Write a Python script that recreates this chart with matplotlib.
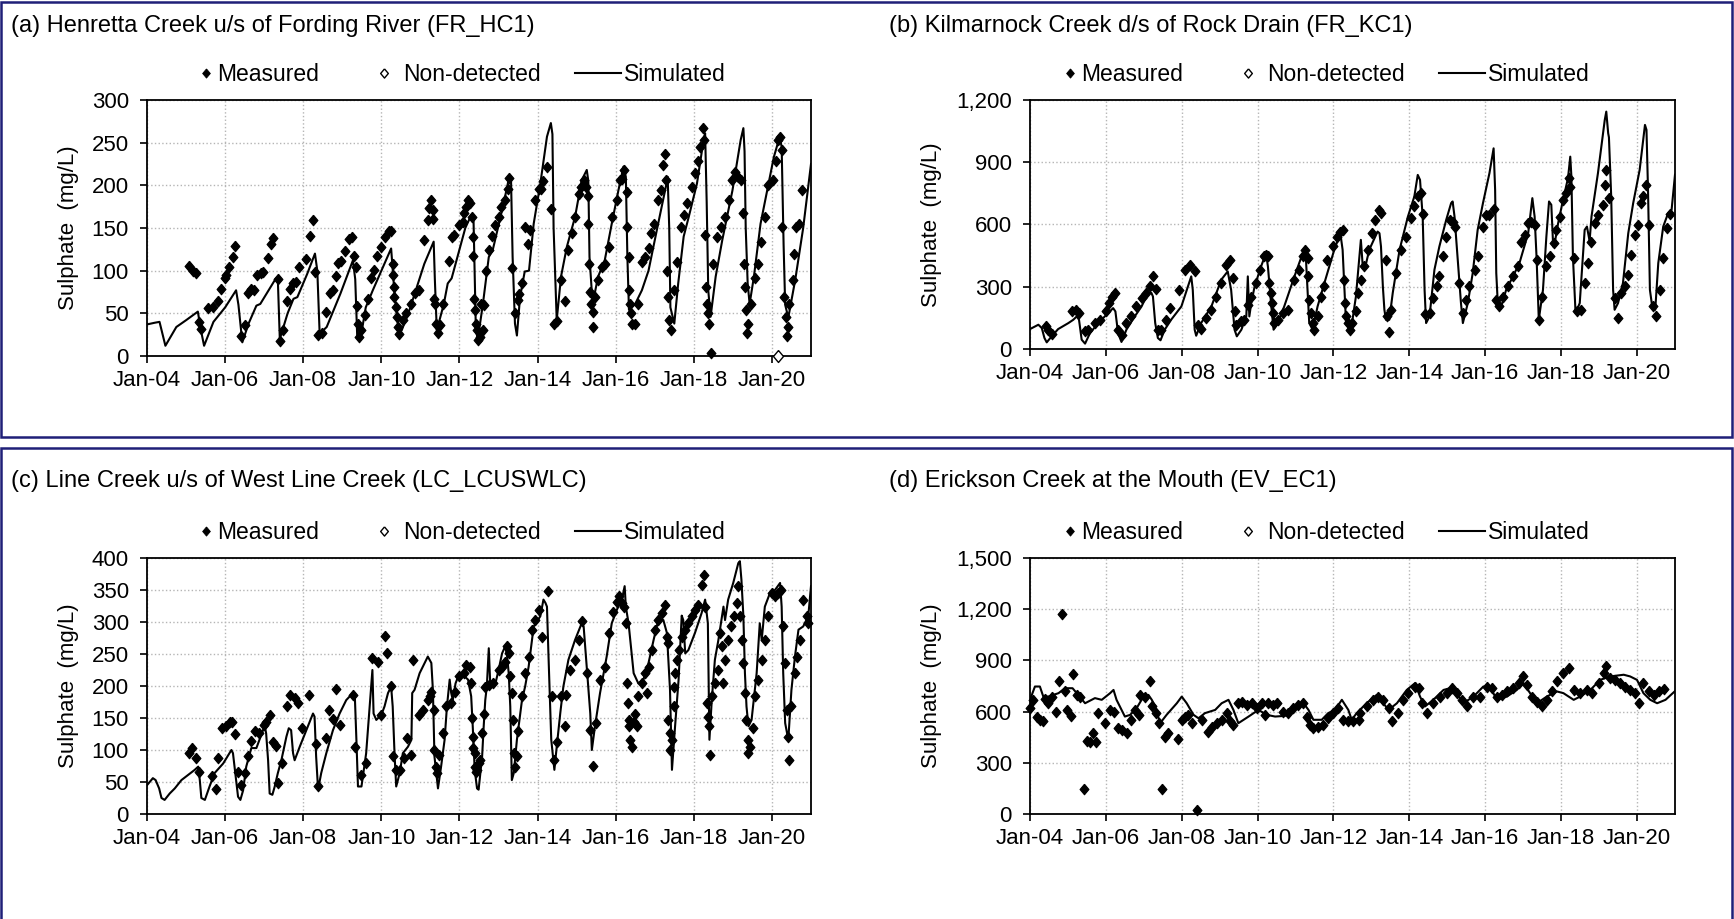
import datetime as dt
import matplotlib
matplotlib.use("Agg")
import matplotlib.pyplot as plt
import matplotlib.dates as mdates
from matplotlib.legend_handler import HandlerLine2DCompound
from matplotlib.lines import Line2D
from matplotlib.patches import Rectangle
from matplotlib.ticker import FuncFormatter, MultipleLocator

plt.rcParams['font.family'] = ['Liberation Sans', 'DejaVu Sans']

# ---- (a) Henretta Creek: times in decimal years, values in mg/L ----
a_meas_t = [2005.07, 2005.18, 2005.26, 2005.32, 2005.38, 2005.56, 2005.69, 2005.82, 2005.90, 2005.99, 2006.01, 2006.11, 2006.21, 2006.24,
            2006.41, 2006.50, 2006.58, 2006.67, 2006.73, 2006.81, 2006.92, 2006.98, 2007.09, 2007.18, 2007.22,
            2007.35, 2007.40, 2007.48, 2007.59, 2007.67, 2007.73, 2007.82, 2007.90, 2008.07, 2008.18, 2008.25,
            2008.31, 2008.39, 2008.48, 2008.59, 2008.69, 2008.76, 2008.84, 2008.88, 2008.97, 2009.08, 2009.17, 2009.24,
            2009.31, 2009.35, 2009.37, 2009.40, 2009.42, 2009.48, 2009.57, 2009.65, 2009.74, 2009.82, 2009.88, 2010.00, 2010.10, 2010.19, 2010.25,
            2010.29, 2010.31, 2010.32, 2010.33, 2010.38, 2010.40, 2010.42, 2010.46, 2010.55, 2010.62, 2010.76, 2010.85, 2010.97,
            2011.10, 2011.19, 2011.23, 2011.27, 2011.31, 2011.33, 2011.36, 2011.38, 2011.40, 2011.44, 2011.50, 2011.57, 2011.72, 2011.81, 2011.87, 2011.98,
            2012.08, 2012.12, 2012.17, 2012.21, 2012.27, 2012.32, 2012.34, 2012.35, 2012.38, 2012.41, 2012.42, 2012.45, 2012.47, 2012.53, 2012.56, 2012.59, 2012.62,
            2012.68, 2012.75, 2012.83, 2012.92, 2013.00, 2013.07, 2013.16, 2013.23, 2013.28, 2013.34, 2013.43, 2013.50, 2013.53, 2013.60, 2013.68, 2013.75, 2013.81, 2013.94,
            2014.03, 2014.09, 2014.15, 2014.24, 2014.34, 2014.43, 2014.49, 2014.61, 2014.69, 2014.79, 2014.88, 2014.96, 2015.05, 2015.12, 2015.20, 2015.24, 2015.28, 2015.30, 2015.32, 2015.35, 2015.37, 2015.41, 2015.42,
            2015.47, 2015.56, 2015.65, 2015.73, 2015.82, 2015.90, 2016.03, 2016.11, 2016.17, 2016.22, 2016.28, 2016.30, 2016.33, 2016.35, 2016.37, 2016.40, 2016.41, 2016.50, 2016.58, 2016.67, 2016.74, 2016.84, 2016.91, 2016.99,
            2017.07, 2017.17, 2017.22, 2017.26, 2017.28, 2017.31, 2017.33, 2017.37, 2017.41, 2017.50, 2017.57, 2017.67, 2017.75, 2017.83, 2017.96,
            2018.04, 2018.10, 2018.17, 2018.24, 2018.25, 2018.29, 2018.31, 2018.33, 2018.36, 2018.38, 2018.43, 2018.50, 2018.60, 2018.69, 2018.80, 2018.89, 2018.97,
            2019.06, 2019.14, 2019.22, 2019.27, 2019.29, 2019.32, 2019.34, 2019.36, 2019.38, 2019.47, 2019.56, 2019.64, 2019.73, 2019.82, 2019.90,
            2020.03, 2020.11, 2020.15, 2020.21, 2020.26, 2020.27, 2020.31, 2020.36, 2020.38, 2020.40, 2020.44, 2020.53, 2020.57, 2020.61, 2020.69, 2020.77]
a_meas_v = [106, 100, 97, 40, 32, 56, 57, 65, 78, 91, 95, 104, 116, 129,
            23, 36, 74, 78, 77, 95, 97, 98, 115, 131, 138,
            90, 18, 30, 65, 78, 86, 87, 104, 114, 141, 159,
            99, 25, 27, 52, 74, 77, 94, 109, 111, 123, 137, 140,
            117, 104, 59, 38, 22, 31, 48, 67, 91, 101, 117, 128, 140, 147, 147,
            108, 95, 81, 69, 57, 46, 34, 26, 42, 50, 61, 74, 77,
            136, 159, 173, 183, 171, 161, 67, 61, 38, 27, 36, 61, 111, 140, 142, 153,
            157, 167, 175, 183, 179, 163, 140, 117, 67, 54, 38, 30, 19, 22, 61, 30, 60,
            100, 124, 141, 153, 163, 175, 183, 196, 209, 103, 50, 66, 73, 86, 151, 131, 148, 183,
            196, 196, 205, 221, 172, 38, 41, 89, 65, 124, 144, 163, 190, 198, 206, 198, 187, 155, 108, 75, 61, 52, 34,
            69, 89, 104, 108, 128, 163, 183, 206, 208, 218, 192, 151, 116, 77, 61, 50, 38, 38, 61, 110, 116, 126, 144, 155,
            183, 194, 224, 237, 206, 100, 69, 42, 30, 77, 110, 151, 165, 179, 198,
            214, 228, 245, 267, 253, 142, 81, 61, 50, 38, 4, 108, 140, 151, 163, 183, 206,
            216, 210, 206, 167, 108, 81, 54, 27, 38, 61, 91, 108, 134, 163, 200,
            206, 228, 253, 257, 241, 151, 69, 46, 24, 34, 61, 89, 120, 151, 155, 194]
a_nd_t = [2020.16]
a_nd_v = [0]
a_sim_t = [2004.00, 2004.20, 2004.32, 2004.47, 2004.75, 2005.00, 2005.30, 2005.38, 2005.46, 2005.70, 2006.00, 2006.28, 2006.34, 2006.44,
           2006.60, 2006.80, 2006.90, 2007.30, 2007.35, 2007.40, 2007.60, 2007.75, 2007.85, 2008.10, 2008.30, 2008.36, 2008.42, 2008.60,
           2008.95, 2009.27, 2009.33, 2009.38, 2009.50, 2009.60, 2009.78, 2010.25, 2010.33, 2010.42, 2010.52, 2010.72, 2011.10, 2011.34,
           2011.37, 2011.42, 2011.60, 2011.70, 2011.80, 2012.15, 2012.30, 2012.36, 2012.42, 2012.47, 2012.60, 2012.75, 2012.85, 2013.05,
           2013.22, 2013.27, 2013.32, 2013.36, 2013.42, 2013.47, 2013.55, 2013.67, 2013.78, 2013.90, 2014.07, 2014.24, 2014.34, 2014.38,
           2014.41, 2014.49, 2014.60, 2014.75, 2014.96, 2015.13, 2015.26, 2015.30, 2015.33, 2015.41, 2015.55, 2015.72, 2015.90, 2016.07,
           2016.20, 2016.26, 2016.30, 2016.34, 2016.50, 2016.67, 2016.84, 2017.05, 2017.30, 2017.33, 2017.37, 2017.40, 2017.50, 2017.60,
           2017.74, 2017.87, 2018.08, 2018.25, 2018.29, 2018.33, 2018.37, 2018.43, 2018.56, 2018.73, 2018.99, 2019.20, 2019.27, 2019.30,
           2019.33, 2019.38, 2019.43, 2019.54, 2019.71, 2019.88, 2020.05, 2020.20, 2020.25, 2020.30, 2020.34, 2020.42, 2020.60, 2020.80, 2021.00]
a_sim_v = [37, 39, 40, 12, 34, 42, 52, 30, 12, 40, 57, 77, 60, 16,
           38, 59, 61, 91, 89, 20, 50, 67, 69, 96, 120, 100, 26, 34,
           73, 112, 90, 24, 30, 57, 77, 126, 77, 38, 30, 54, 108, 134,
           90, 30, 61, 85, 91, 150, 165, 160, 30, 20, 61, 116, 124, 163,
           198, 210, 205, 116, 38, 24, 69, 99, 100, 155, 202, 257, 273, 260,
           150, 42, 93, 128, 163, 206, 218, 205, 116, 61, 93, 112, 155, 194,
           222, 210, 116, 54, 61, 77, 100, 147, 202, 210, 150, 57, 38, 85,
           140, 163, 202, 253, 261, 180, 77, 46, 93, 136, 194, 253, 267, 240,
           150, 85, 61, 93, 155, 194, 233, 257, 245, 130, 60, 45, 90, 150, 225]

# ---- (b) Kilmarnock Creek ----
b_meas_t = [2004.42, 2004.48, 2004.57, 2005.11, 2005.20, 2005.29, 2005.45, 2005.53, 2005.71, 2005.84,
            2006.00, 2006.08, 2006.15, 2006.24, 2006.33, 2006.42, 2006.54, 2006.67, 2006.80, 2006.94,
            2007.05, 2007.16, 2007.24, 2007.33, 2007.37, 2007.46, 2007.59, 2007.68, 2007.92, 2008.08,
            2008.21, 2008.34, 2008.43, 2008.51, 2008.64, 2008.78, 2008.91, 2009.04, 2009.17, 2009.26,
            2009.35, 2009.39, 2009.43, 2009.57, 2009.65, 2009.74, 2009.83, 2009.96, 2010.07, 2010.16,
            2010.22, 2010.27, 2010.31, 2010.34, 2010.37, 2010.40, 2010.44, 2010.53, 2010.66, 2010.79,
            2010.97, 2011.10, 2011.19, 2011.26, 2011.32, 2011.33, 2011.36, 2011.41, 2011.45, 2011.49,
            2011.58, 2011.67, 2011.76, 2011.84, 2011.98, 2012.09, 2012.18, 2012.26, 2012.28, 2012.29,
            2012.32, 2012.37, 2012.44, 2012.50, 2012.59, 2012.64, 2012.72, 2012.81, 2012.90, 2013.01,
            2013.10, 2013.21, 2013.25, 2013.37, 2013.40, 2013.45, 2013.52, 2013.65, 2013.78, 2013.91,
            2014.04, 2014.13, 2014.22, 2014.31, 2014.35, 2014.42, 2014.53, 2014.62, 2014.72, 2014.79,
            2014.88, 2014.97, 2015.06, 2015.14, 2015.21, 2015.32, 2015.41, 2015.50, 2015.58, 2015.72,
            2015.80, 2015.94, 2016.02, 2016.11, 2016.22, 2016.29, 2016.36, 2016.46, 2016.60, 2016.73,
            2016.86, 2016.95, 2017.04, 2017.12, 2017.21, 2017.30, 2017.35, 2017.42, 2017.50, 2017.61,
            2017.70, 2017.80, 2017.87, 2017.96, 2018.05, 2018.14, 2018.21, 2018.24, 2018.33, 2018.42,
            2018.53, 2018.62, 2018.71, 2018.80, 2018.89, 2018.97, 2019.11, 2019.15, 2019.18, 2019.26,
            2019.41, 2019.50, 2019.59, 2019.68, 2019.76, 2019.85, 2019.94, 2020.03, 2020.10, 2020.16,
            2020.23, 2020.31, 2020.42, 2020.50, 2020.60, 2020.69, 2020.78, 2020.87]
b_meas_v = [112, 93, 72, 181, 189, 173, 85, 93, 125, 141,
            181, 221, 253, 270, 93, 69, 125, 157, 205, 245,
            270, 302, 350, 289, 93, 93, 141, 197, 286, 382,
            406, 374, 117, 96, 149, 189, 253, 318, 406, 430,
            342, 181, 117, 133, 141, 213, 253, 318, 382, 446,
            454, 446, 318, 270, 221, 173, 125, 141, 173, 189,
            334, 382, 446, 478, 438, 350, 237, 173, 125, 93,
            157, 253, 302, 430, 494, 542, 566, 574, 334, 221,
            157, 125, 93, 125, 181, 270, 334, 398, 478, 558,
            622, 671, 655, 430, 157, 82, 189, 366, 475, 542,
            630, 687, 735, 751, 651, 170, 173, 245, 302, 350,
            446, 542, 622, 614, 590, 318, 173, 237, 302, 382,
            446, 590, 647, 647, 674, 237, 205, 253, 302, 350,
            398, 518, 550, 606, 614, 598, 430, 141, 253, 398,
            446, 510, 574, 638, 719, 751, 823, 783, 438, 181,
            189, 318, 414, 518, 606, 647, 695, 791, 863, 727,
            245, 149, 270, 302, 358, 454, 550, 598, 703, 735,
            791, 598, 205, 157, 286, 438, 582, 651]
b_nd_t = []
b_nd_v = []
b_sim_t = [2004.00, 2004.22, 2004.31, 2004.38, 2004.44, 2004.57, 2004.74, 2005.01, 2005.14, 2005.23,
           2005.29, 2005.36, 2005.45, 2005.58, 2005.80, 2005.97, 2006.19, 2006.25, 2006.32, 2006.41,
           2006.54, 2006.76, 2006.94, 2007.11, 2007.20, 2007.24, 2007.30, 2007.37, 2007.44, 2007.55,
           2007.72, 2007.99, 2008.25, 2008.29, 2008.34, 2008.38, 2008.51, 2008.78, 2009.04, 2009.21,
           2009.30, 2009.39, 2009.45, 2009.57, 2009.70, 2009.74, 2009.78, 2009.83, 2009.92, 2010.09,
           2010.22, 2010.27, 2010.36, 2010.42, 2010.53, 2010.70, 2010.97, 2011.19, 2011.27, 2011.36,
           2011.45, 2011.58, 2011.76, 2012.02, 2012.18, 2012.24, 2012.33, 2012.41, 2012.50, 2012.59,
           2012.72, 2012.77, 2012.86, 2012.94, 2013.16, 2013.21, 2013.25, 2013.30, 2013.34, 2013.38,
           2013.47, 2013.56, 2013.74, 2013.96, 2014.13, 2014.22, 2014.28, 2014.35, 2014.40, 2014.44,
           2014.53, 2014.66, 2014.79, 2014.97, 2015.10, 2015.14, 2015.19, 2015.28, 2015.36, 2015.41,
           2015.54, 2015.67, 2015.80, 2015.94, 2016.11, 2016.22, 2016.26, 2016.29, 2016.33, 2016.42,
           2016.55, 2016.73, 2016.90, 2017.13, 2017.24, 2017.30, 2017.35, 2017.41, 2017.52, 2017.61,
           2017.68, 2017.74, 2017.79, 2017.83, 2017.92, 2018.05, 2018.18, 2018.24, 2018.27, 2018.31,
           2018.38, 2018.49, 2018.62, 2018.68, 2018.75, 2018.80, 2018.97, 2019.15, 2019.19, 2019.24,
           2019.26, 2019.32, 2019.37, 2019.41, 2019.50, 2019.63, 2019.77, 2019.90, 2020.07, 2020.21,
           2020.25, 2020.29, 2020.34, 2020.40, 2020.48, 2020.56, 2020.69, 2020.82, 2020.91, 2021.00]
b_sim_v = [96, 117, 101, 53, 32, 61, 96, 125, 141, 157,
           141, 45, 26, 77, 125, 157, 197, 181, 77, 34,
           93, 157, 205, 270, 270, 253, 125, 53, 42, 93,
           141, 205, 350, 285, 93, 64, 125, 205, 334, 374,
           285, 93, 61, 93, 157, 350, 157, 221, 302, 398,
           462, 398, 205, 93, 125, 205, 350, 462, 446, 125,
           93, 205, 318, 478, 558, 478, 125, 101, 141, 253,
           526, 398, 414, 478, 566, 558, 494, 300, 189, 141,
           141, 270, 478, 638, 735, 839, 815, 638, 285, 125,
           157, 382, 494, 622, 703, 711, 638, 414, 221, 125,
           221, 366, 574, 703, 847, 967, 767, 366, 221, 205,
           285, 350, 414, 558, 727, 638, 446, 141, 285, 542,
           711, 695, 494, 510, 606, 719, 823, 927, 831, 446,
           173, 221, 574, 590, 520, 638, 847, 1104, 1144, 1040,
           1020, 735, 285, 189, 221, 318, 558, 703, 863, 1080,
           1056, 767, 285, 205, 189, 414, 590, 655, 670, 840]

# ---- (c) Line Creek ----
c_meas_t = [2005.08, 2005.16, 2005.25, 2005.33, 2005.67, 2005.76, 2005.82, 2005.93, 2006.01, 2006.12,
            2006.18, 2006.24, 2006.33, 2006.41, 2006.50, 2006.59, 2006.67, 2006.77, 2006.87, 2006.99,
            2007.05, 2007.15, 2007.22, 2007.31, 2007.35, 2007.46, 2007.58, 2007.67, 2007.78, 2007.87,
            2007.98, 2008.16, 2008.32, 2008.38, 2008.59, 2008.66, 2008.75, 2008.85, 2008.93, 2009.27,
            2009.32, 2009.49, 2009.60, 2009.75, 2009.91, 2010.00, 2010.08, 2010.14, 2010.25, 2010.31,
            2010.38, 2010.47, 2010.57, 2010.66, 2010.77, 2010.81, 2010.96, 2011.06, 2011.19, 2011.24,
            2011.28, 2011.34, 2011.36, 2011.39, 2011.42, 2011.47, 2011.58, 2011.66, 2011.79, 2011.88,
            2011.99, 2012.11, 2012.17, 2012.26, 2012.30, 2012.33, 2012.335, 2012.34, 2012.39, 2012.41,
            2012.43, 2012.45, 2012.50, 2012.52, 2012.58, 2012.62, 2012.66, 2012.75, 2012.87, 2013.00,
            2013.09, 2013.17, 2013.22, 2013.26, 2013.30, 2013.34, 2013.36, 2013.39, 2013.41, 2013.47,
            2013.51, 2013.60, 2013.68, 2013.77, 2013.86, 2013.94, 2014.03, 2014.11, 2014.26, 2014.37,
            2014.43, 2014.49, 2014.61, 2014.69, 2014.72, 2014.84, 2014.95, 2015.05, 2015.15, 2015.26,
            2015.35, 2015.41, 2015.49, 2015.60, 2015.73, 2015.82, 2015.92, 2016.03, 2016.09, 2016.16,
            2016.22, 2016.26, 2016.28, 2016.31, 2016.33, 2016.34, 2016.37, 2016.41, 2016.46, 2016.50,
            2016.54, 2016.58, 2016.67, 2016.75, 2016.80, 2016.84, 2016.92, 2017.01, 2017.09, 2017.18,
            2017.27, 2017.31, 2017.33, 2017.35, 2017.38, 2017.39, 2017.44, 2017.48, 2017.50, 2017.52,
            2017.56, 2017.62, 2017.69, 2017.78, 2017.86, 2017.95, 2018.03, 2018.12, 2018.20, 2018.25,
            2018.29, 2018.33, 2018.36, 2018.39, 2018.42, 2018.46, 2018.54, 2018.63, 2018.67, 2018.71,
            2018.76, 2018.80, 2018.88, 2018.95, 2019.04, 2019.10, 2019.14, 2019.18, 2019.23, 2019.27,
            2019.31, 2019.35, 2019.38, 2019.40, 2019.44, 2019.52, 2019.57, 2019.65, 2019.74, 2019.82,
            2019.91, 2020.01, 2020.08, 2020.16, 2020.23, 2020.29, 2020.34, 2020.38, 2020.42, 2020.43,
            2020.50, 2020.59, 2020.63, 2020.72, 2020.80, 2020.89, 2020.93]
c_meas_v = [95, 103, 87, 65, 59, 39, 87, 134, 138, 143,
            144, 125, 66, 46, 64, 90, 114, 130, 126, 139,
            143, 155, 112, 106, 48, 80, 169, 186, 181, 173,
            134, 186, 110, 43, 118, 163, 148, 196, 139, 186,
            105, 61, 80, 243, 238, 155, 278, 251, 200, 91,
            69, 69, 87, 118, 92, 241, 155, 163, 178, 184,
            191, 163, 100, 74, 64, 92, 126, 168, 173, 191,
            215, 220, 233, 230, 204, 150, 121, 103, 95, 74,
            66, 69, 79, 84, 126, 157, 199, 202, 204, 225,
            230, 238, 262, 251, 215, 189, 147, 95, 74, 90,
            129, 184, 220, 246, 288, 303, 319, 277, 348, 184,
            84, 113, 184, 137, 186, 225, 241, 272, 301, 220,
            131, 75, 142, 210, 230, 283, 316, 332, 340, 330,
            324, 298, 204, 173, 147, 137, 116, 105, 144, 157,
            137, 184, 204, 220, 189, 230, 257, 288, 303, 314,
            327, 277, 267, 147, 126, 100, 116, 168, 199, 220,
            241, 257, 277, 288, 298, 309, 319, 327, 358, 374,
            324, 173, 152, 137, 92, 184, 204, 225, 283, 262,
            204, 241, 272, 293, 309, 330, 356, 309, 272, 236,
            189, 147, 116, 95, 105, 134, 184, 210, 241, 272,
            309, 345, 340, 345, 350, 293, 236, 163, 121, 84,
            168, 220, 246, 272, 335, 309, 298]
c_nd_t = []
c_nd_v = []
c_sim_t = [2004.00, 2004.15, 2004.22, 2004.31, 2004.37, 2004.45, 2004.58, 2004.71, 2004.88, 2005.05,
           2005.22, 2005.31, 2005.35, 2005.39, 2005.48, 2005.60, 2005.73, 2005.95, 2006.16, 2006.20,
           2006.24, 2006.33, 2006.39, 2006.46, 2006.54, 2006.67, 2006.80, 2006.97, 2007.01, 2007.05,
           2007.10, 2007.14, 2007.21, 2007.27, 2007.35, 2007.44, 2007.57, 2007.63, 2007.69, 2007.74,
           2007.78, 2007.91, 2008.08, 2008.25, 2008.29, 2008.33, 2008.38, 2008.46, 2008.59, 2008.76,
           2008.93, 2009.10, 2009.27, 2009.32, 2009.36, 2009.40, 2009.49, 2009.61, 2009.70, 2009.77,
           2009.80, 2009.87, 2010.00, 2010.08, 2010.17, 2010.25, 2010.29, 2010.34, 2010.38, 2010.47,
           2010.55, 2010.68, 2010.77, 2010.79, 2010.85, 2010.98, 2011.11, 2011.19, 2011.28, 2011.32,
           2011.36, 2011.45, 2011.53, 2011.62, 2011.68, 2011.75, 2011.79, 2011.83, 2011.90, 2012.00,
           2012.13, 2012.22, 2012.30, 2012.34, 2012.39, 2012.45, 2012.49, 2012.58, 2012.62, 2012.66,
           2012.70, 2012.75, 2012.79, 2012.87, 2012.92, 2013.00, 2013.09, 2013.17, 2013.22, 2013.26,
           2013.30, 2013.34, 2013.39, 2013.47, 2013.60, 2013.68, 2013.77, 2013.90, 2014.07, 2014.15,
           2014.20, 2014.24, 2014.28, 2014.35, 2014.43, 2014.49, 2014.58, 2014.66, 2014.79, 2014.96,
           2015.13, 2015.18, 2015.26, 2015.35, 2015.39, 2015.47, 2015.60, 2015.77, 2015.90, 2016.03,
           2016.16, 2016.23, 2016.26, 2016.33, 2016.46, 2016.58, 2016.71, 2016.84, 2016.97, 2017.09,
           2017.22, 2017.31, 2017.39, 2017.44, 2017.52, 2017.61, 2017.69, 2017.73, 2017.78, 2017.86,
           2018.03, 2018.20, 2018.29, 2018.36, 2018.40, 2018.46, 2018.54, 2018.63, 2018.76, 2018.80,
           2018.88, 2019.01, 2019.14, 2019.18, 2019.22, 2019.27, 2019.31, 2019.35, 2019.40, 2019.48,
           2019.61, 2019.69, 2019.74, 2019.82, 2019.95, 2020.08, 2020.21, 2020.25, 2020.29, 2020.34,
           2020.42, 2020.50, 2020.59, 2020.68, 2020.80, 2020.93, 2021.00]
c_sim_v = [45, 56, 53, 40, 25, 22, 32, 40, 53, 61,
           69, 74, 53, 25, 22, 43, 64, 79, 100, 95,
           74, 27, 22, 37, 74, 103, 103, 131, 139, 126,
           84, 32, 30, 43, 64, 84, 121, 134, 131, 95,
           84, 105, 131, 157, 152, 90, 38, 64, 95, 131,
           157, 178, 189, 184, 116, 43, 43, 95, 168, 225,
           157, 147, 155, 168, 189, 199, 168, 90, 43, 64,
           95, 105, 116, 189, 194, 220, 236, 246, 236, 194,
           90, 40, 74, 116, 168, 210, 189, 178, 204, 220,
           215, 210, 184, 137, 69, 40, 38, 90, 137, 178,
           199, 259, 199, 210, 204, 225, 251, 262, 246, 220,
           168, 53, 64, 116, 178, 199, 230, 293, 309, 335,
           330, 324, 246, 116, 69, 105, 157, 199, 241, 272,
           298, 293, 230, 157, 100, 137, 189, 246, 298, 319,
           335, 356, 324, 298, 220, 204, 210, 236, 272, 303,
           303, 283, 194, 69, 137, 210, 310, 303, 251, 256,
           283, 314, 335, 298, 116, 178, 241, 272, 324, 303,
           335, 361, 392, 395, 366, 309, 220, 168, 137, 147,
           220, 298, 272, 324, 345, 350, 361, 324, 220, 142,
           116, 194, 246, 288, 293, 309, 356]

# ---- (d) Erickson Creek ----
d_meas_t = [2004.00, 2004.09, 2004.18, 2004.26, 2004.35, 2004.40, 2004.48, 2004.57, 2004.68, 2004.75,
            2004.83, 2004.92, 2004.97, 2005.08, 2005.14, 2005.23, 2005.32, 2005.42, 2005.49, 2005.58,
            2005.67, 2005.73, 2005.80, 2005.98, 2006.11, 2006.20, 2006.31, 2006.42, 2006.55, 2006.66,
            2006.77, 2006.86, 2006.90, 2007.03, 2007.16, 2007.21, 2007.31, 2007.40, 2007.49, 2007.56,
            2007.65, 2007.91, 2008.00, 2008.09, 2008.17, 2008.28, 2008.41, 2008.53, 2008.70, 2008.79,
            2008.92, 2009.05, 2009.18, 2009.27, 2009.36, 2009.49, 2009.58, 2009.71, 2009.84, 2009.98,
            2010.11, 2010.19, 2010.28, 2010.41, 2010.50, 2010.68, 2010.81, 2010.94, 2011.07, 2011.20,
            2011.29, 2011.38, 2011.47, 2011.60, 2011.73, 2011.86, 2011.99, 2012.13, 2012.26, 2012.39,
            2012.52, 2012.66, 2012.70, 2012.87, 2013.05, 2013.18, 2013.31, 2013.45, 2013.53, 2013.71,
            2013.84, 2013.97, 2014.15, 2014.24, 2014.33, 2014.46, 2014.63, 2014.81, 2014.99, 2015.12,
            2015.25, 2015.38, 2015.51, 2015.69, 2015.86, 2016.04, 2016.17, 2016.30, 2016.44, 2016.57,
            2016.74, 2016.88, 2016.99, 2017.10, 2017.23, 2017.36, 2017.49, 2017.62, 2017.76, 2017.89,
            2018.06, 2018.20, 2018.33, 2018.50, 2018.68, 2018.81, 2018.99, 2019.12, 2019.19, 2019.29,
            2019.43, 2019.56, 2019.69, 2019.82, 2019.95, 2020.04, 2020.17, 2020.31, 2020.44, 2020.57,
            2020.70]
d_meas_v = [620, 669, 571, 552, 542, 673, 649, 688, 595, 782,
            1173, 718, 610, 575, 821, 698, 688, 149, 430, 424,
            473, 424, 591, 536, 610, 600, 503, 493, 477, 552,
            610, 581, 698, 688, 782, 630, 591, 532, 147, 454,
            473, 438, 552, 571, 581, 532, 23, 552, 483, 512,
            532, 552, 591, 542, 522, 649, 659, 640, 649, 620,
            649, 581, 649, 640, 649, 600, 591, 620, 640, 649,
            571, 522, 503, 512, 522, 561, 591, 620, 552, 542,
            542, 552, 591, 630, 669, 688, 669, 620, 542, 591,
            669, 708, 747, 737, 649, 591, 649, 688, 708, 737,
            708, 669, 630, 688, 688, 747, 737, 688, 698, 718,
            737, 767, 806, 757, 688, 659, 630, 669, 718, 777,
            825, 855, 727, 708, 727, 708, 767, 825, 868, 796,
            786, 767, 747, 727, 708, 649, 767, 718, 698, 718,
            731]
d_nd_t = []
d_nd_v = []
d_sim_t = [2004.00, 2004.13, 2004.26, 2004.35, 2004.48, 2004.75, 2004.92, 2005.12, 2005.23, 2005.45,
           2005.71, 2005.89, 2006.11, 2006.20, 2006.28, 2006.50, 2006.64, 2006.81, 2006.94, 2007.12,
           2007.21, 2007.30, 2007.43, 2007.60, 2007.87, 2008.00, 2008.13, 2008.31, 2008.44, 2008.61,
           2008.88, 2009.05, 2009.23, 2009.36, 2009.49, 2009.76, 2010.02, 2010.24, 2010.46, 2010.72,
           2010.94, 2011.07, 2011.21, 2011.34, 2011.47, 2011.69, 2011.86, 2012.04, 2012.22, 2012.39,
           2012.48, 2012.61, 2012.87, 2013.14, 2013.31, 2013.45, 2013.67, 2013.93, 2014.15, 2014.28,
           2014.41, 2014.63, 2014.90, 2015.07, 2015.25, 2015.42, 2015.69, 2015.95, 2016.13, 2016.30,
           2016.57, 2016.83, 2017.01, 2017.18, 2017.36, 2017.62, 2017.89, 2018.06, 2018.33, 2018.50,
           2018.77, 2019.03, 2019.29, 2019.65, 2019.82, 2020.00, 2020.17, 2020.35, 2020.53, 2020.75, 2021.00]
d_sim_v = [669, 747, 747, 688, 688, 708, 737, 737, 708, 649,
           679, 669, 708, 727, 669, 571, 581, 620, 669, 698,
           669, 630, 532, 581, 649, 688, 649, 581, 561, 591,
           610, 649, 669, 610, 532, 571, 610, 581, 571, 575,
           610, 640, 649, 610, 552, 552, 591, 610, 669, 610,
           552, 591, 649, 698, 649, 610, 649, 727, 767, 688,
           630, 669, 727, 737, 708, 649, 688, 747, 747, 669,
           688, 727, 767, 708, 649, 688, 718, 708, 669, 688,
           727, 786, 806, 816, 806, 786, 708, 669, 649, 669, 720]

titles = ['(a) Henretta Creek u/s of Fording River (FR_HC1)',
          '(b) Kilmarnock Creek d/s of Rock Drain (FR_KC1)',
          '(c) Line Creek u/s of West Line Creek (LC_LCUSWLC)',
          '(d) Erickson Creek at the Mouth (EV_EC1)']
y_max = [300, 1200, 400, 1500]
y_step = [50, 300, 50, 300]


def to_dates(years):
    out = []
    for y in years:
        y0 = int(y)
        start = dt.datetime(y0, 1, 1)
        ndays = (dt.datetime(y0 + 1, 1, 1) - start).days
        out.append(start + dt.timedelta(days=(y - y0) * ndays))
    return out


class MarkerRight(HandlerLine2DCompound):
    # Excel draws the legend marker close to its label, not centred in the handle
    def __init__(self, offset, **kw):
        super().__init__(**kw)
        self.offset = offset

    def get_xdata(self, legend, xdescent, ydescent, width, height, fontsize):
        xdata, _ = super().get_xdata(legend, xdescent, ydescent, width, height, fontsize)
        return xdata, [-xdescent + width - self.offset * fontsize]


W, H = 1734, 919
NAVY = '#1F1F78'
DIAMOND = [(0, 1), (0.84, 0), (0, -1), (-0.84, 0), (0, 1)]
MS = 7.6

fig = plt.figure(figsize=(W / 100, H / 100), dpi=100)

# panel frames (top box and bottom box)
fig.patches.append(Rectangle((1 / W, 1 - 437 / H), 1731 / W, 435 / H, transform=fig.transFigure,
                             fill=False, edgecolor=NAVY, lw=1.8))
fig.patches.append(Rectangle((1 / W, -0.02), 1731 / W, 0.02 + 1 - 448 / H, transform=fig.transFigure,
                             fill=False, edgecolor=NAVY, lw=1.8))

# axes boxes in pixels: left, top, right, bottom
boxes = [(147, 100, 811, 356), (1030, 100, 1675, 349), (147, 558, 811, 814), (1030, 558, 1675, 814)]
title_xy = [(11, 26), (889, 26), (11, 481), (889, 481)]
legend_xy = [(0.452, 1.10), (0.436, 1.104), (0.452, 1.10), (0.436, 1.10)]
ylabel_x = [-0.102, -0.136, -0.102, -0.136]

series = [(a_meas_t, a_meas_v, a_nd_t, a_nd_v, a_sim_t, a_sim_v),
          (b_meas_t, b_meas_v, b_nd_t, b_nd_v, b_sim_t, b_sim_v),
          (c_meas_t, c_meas_v, c_nd_t, c_nd_v, c_sim_t, c_sim_v),
          (d_meas_t, d_meas_v, d_nd_t, d_nd_v, d_sim_t, d_sim_v)]

for i, (mt, mv, nt, nv, st, sv) in enumerate(series):
    l, t, r, b = boxes[i]
    ax = fig.add_axes([l / W, 1 - b / H, (r - l) / W, (b - t) / H])

    ax.plot(to_dates(st), sv, color='black', lw=1.5, zorder=3)
    ax.plot(to_dates(mt), mv, ls='none', marker=DIAMOND, ms=MS, color='black', mew=0.8,
            clip_on=False, zorder=4)
    if nt:
        ax.plot(to_dates(nt), nv, ls='none', marker=DIAMOND, ms=MS + 1, mfc='white', mec='black', mew=1,
                clip_on=False, zorder=5)

    ax.set_xlim(dt.datetime(2004, 1, 1), dt.datetime(2021, 1, 1))
    ax.set_ylim(0, y_max[i])
    ax.yaxis.set_major_locator(MultipleLocator(y_step[i]))
    ax.yaxis.set_major_formatter(FuncFormatter(lambda v, pos: f'{v:,.0f}'))
    ax.xaxis.set_major_locator(mdates.YearLocator(2))
    ax.xaxis.set_major_formatter(mdates.DateFormatter('%b-%y'))

    ax.grid(True, ls=':', color='#b5b5b5', lw=1)
    ax.set_axisbelow(True)
    ax.tick_params(direction='out', length=5, width=1.2, labelsize=16)
    ax.tick_params(axis='y', pad=8)
    ax.tick_params(axis='x', pad=5)
    for s in ax.spines.values():
        s.set_linewidth(1.3)

    ax.set_ylabel('Sulphate  (mg/L)', fontsize=16)
    ax.yaxis.set_label_coords(ylabel_x[i], 0.5)

    handles = [Line2D([], [], ls='none', marker=DIAMOND, ms=MS - 1, color='black', mew=0.6, label='Measured'),
               Line2D([], [], ls='none', marker=DIAMOND, ms=MS - 1, mfc='white', mec='black', mew=1,
                      label='Non-detected'),
               Line2D([], [], color='black', lw=1.5, label='Simulated')]
    ax.legend(handles=handles, ncol=3, loc='center', bbox_to_anchor=legend_xy[i], frameon=False,
              fontsize=16.5, handlelength=2.0, handletextpad=0.15, columnspacing=1.5, borderaxespad=0,
              handler_map={handles[0]: MarkerRight(0.35), handles[1]: MarkerRight(0.7)})

    tx, ty = title_xy[i]
    fig.text(tx / W, 1 - ty / H, titles[i], fontsize=17, va='center', ha='left')

fig.savefig('out.png', dpi=100)
